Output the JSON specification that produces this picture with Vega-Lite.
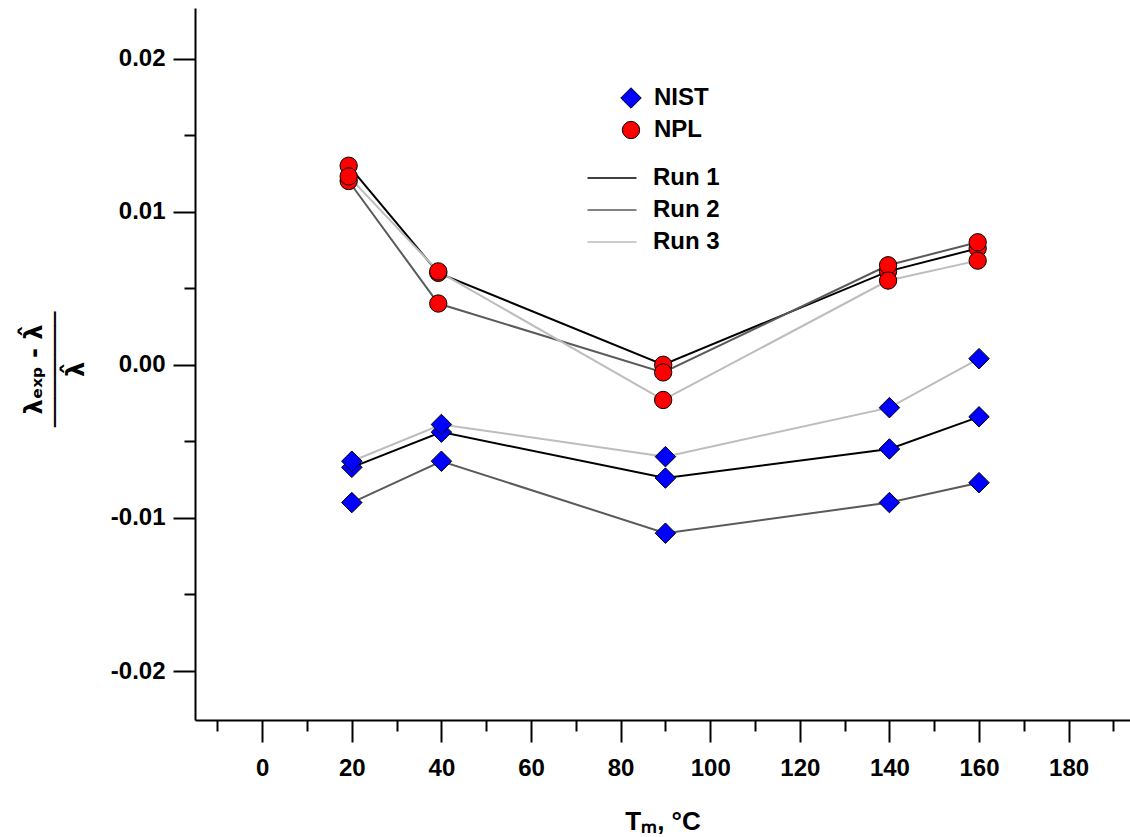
{
  "$schema": "https://vega.github.io/schema/vega-lite/v6.json",
  "width": 935,
  "height": 712,
  "autosize": {"type": "none"},
  "padding": {"left": 195, "top": 8, "right": 0, "bottom": 117},
  "background": "white",
  "config": {
    "font": "Liberation Sans",
    "view": {"stroke": null},
    "axis": {
      "grid": false,
      "domainColor": "black",
      "tickColor": "black",
      "domainWidth": 2,
      "tickWidth": 2,
      "labelFont": "Liberation Sans",
      "labelFontWeight": "bold",
      "labelFontSize": 24,
      "labelColor": "black",
      "titleFont": "Liberation Sans",
      "titleFontWeight": "bold",
      "titleFontSize": 26,
      "titleColor": "black"
    },
    "legend": {
      "labelFont": "Liberation Sans",
      "labelFontWeight": "bold",
      "labelFontSize": 24,
      "labelColor": "black",
      "padding": 0
    }
  },
  "datasets": {
    "pts": [
      {"lab": "NPL", "run": "Run 1", "T": 19.3, "v": 0.0130},
      {"lab": "NPL", "run": "Run 1", "T": 39.3, "v": 0.0060},
      {"lab": "NPL", "run": "Run 1", "T": 89.5, "v": 0.0000},
      {"lab": "NPL", "run": "Run 1", "T": 139.7, "v": 0.0061},
      {"lab": "NPL", "run": "Run 1", "T": 159.7, "v": 0.0076},
      {"lab": "NPL", "run": "Run 2", "T": 19.3, "v": 0.0120},
      {"lab": "NPL", "run": "Run 2", "T": 39.3, "v": 0.0040},
      {"lab": "NPL", "run": "Run 2", "T": 89.5, "v": -0.0005},
      {"lab": "NPL", "run": "Run 2", "T": 139.7, "v": 0.0065},
      {"lab": "NPL", "run": "Run 2", "T": 159.7, "v": 0.0080},
      {"lab": "NPL", "run": "Run 3", "T": 19.3, "v": 0.0123},
      {"lab": "NPL", "run": "Run 3", "T": 39.3, "v": 0.0061},
      {"lab": "NPL", "run": "Run 3", "T": 89.5, "v": -0.0023},
      {"lab": "NPL", "run": "Run 3", "T": 139.7, "v": 0.0055},
      {"lab": "NPL", "run": "Run 3", "T": 159.7, "v": 0.0068},
      {"lab": "NIST", "run": "Run 1", "T": 20, "v": -0.0067},
      {"lab": "NIST", "run": "Run 1", "T": 40, "v": -0.0044},
      {"lab": "NIST", "run": "Run 1", "T": 90, "v": -0.0074},
      {"lab": "NIST", "run": "Run 1", "T": 140, "v": -0.0055},
      {"lab": "NIST", "run": "Run 1", "T": 160, "v": -0.0034},
      {"lab": "NIST", "run": "Run 2", "T": 20, "v": -0.0090},
      {"lab": "NIST", "run": "Run 2", "T": 40, "v": -0.0063},
      {"lab": "NIST", "run": "Run 2", "T": 90, "v": -0.0110},
      {"lab": "NIST", "run": "Run 2", "T": 140, "v": -0.0090},
      {"lab": "NIST", "run": "Run 2", "T": 160, "v": -0.0077},
      {"lab": "NIST", "run": "Run 3", "T": 20, "v": -0.0063},
      {"lab": "NIST", "run": "Run 3", "T": 40, "v": -0.0039},
      {"lab": "NIST", "run": "Run 3", "T": 90, "v": -0.0060},
      {"lab": "NIST", "run": "Run 3", "T": 140, "v": -0.0028},
      {"lab": "NIST", "run": "Run 3", "T": 160, "v": 0.0004}
    ]
  },
  "layer": [
    {
      "mark": {"type": "rule", "color": "black", "strokeWidth": 1.5},
      "encoding": {
        "y": {"datum": 0, "type": "quantitative", "scale": {"domain": [-0.0232, 0.0233], "nice": false, "zero": false}, "axis": null}
      }
    },
    {
      "data": {"name": "pts"},
      "mark": {"type": "line", "strokeWidth": 2},
      "encoding": {
        "x": {
          "field": "T", "type": "quantitative",
          "scale": {"domain": [-15, 193.7], "nice": false, "zero": false},
          "axis": {"orient": "bottom", "values": [-10, 10, 30, 50, 70, 90, 110, 130, 150, 170, 190], "tickSize": 11, "labels": false, "domain": false, "title": null}
        },
        "y": {
          "field": "v", "type": "quantitative",
          "scale": {"domain": [-0.0232, 0.0233], "nice": false, "zero": false},
          "axis": {"orient": "left", "values": [-0.015, -0.005, 0.005, 0.015], "tickSize": 11, "labels": false, "domain": false, "title": null}
        },
        "stroke": {
          "field": "run", "type": "nominal",
          "scale": {"domain": ["Run 1", "Run 2", "Run 3"], "range": ["#000000", "#5a5a5a", "#bdbdbd"]},
          "legend": {"title": null, "orient": "none", "legendX": 405, "legendY": 158, "symbolType": "M-2.45,0H2.45", "symbolSize": 400, "symbolStrokeWidth": 1.5, "labelOffset": 29, "rowPadding": 8}
        },
        "detail": {"field": "lab", "type": "nominal"}
      }
    },
    {
      "data": {"name": "pts"},
      "mark": {"type": "point", "filled": true, "stroke": "black", "strokeWidth": 1, "opacity": 1},
      "encoding": {
        "x": {
          "field": "T", "type": "quantitative",
          "scale": {"domain": [-15, 193.7], "nice": false, "zero": false},
          "axis": {"orient": "bottom", "values": [0, 20, 40, 60, 80, 100, 120, 140, 160, 180], "tickSize": 22, "labelPadding": 14, "title": "Tₘ, °C", "titlePadding": 28}
        },
        "y": {
          "field": "v", "type": "quantitative",
          "scale": {"domain": [-0.0232, 0.0233], "nice": false, "zero": false},
          "axis": {"orient": "left", "values": [-0.02, -0.01, 0, 0.01, 0.02], "labelExpr": "replace(format(datum.value, '.2f'), '\u2212', '-')", "tickSize": 22, "labelPadding": 8,
            "title": ["λₑₓₚ - λ̂", "────────", "λ̂"],
            "titleFont": "DejaVu Sans", "titleFontSize": 24,
            "titleX": -161, "titleY": 361, "titleAngle": 270, "titleAlign": "center", "titleBaseline": "middle", "titleLineHeight": 21}
        },
        "fill": {
          "field": "lab", "type": "nominal",
          "scale": {"domain": ["NIST", "NPL"], "range": ["#0000ff", "#ff0000"]},
          "legend": {"title": null, "orient": "none", "legendX": 424, "legendY": 78, "symbolStrokeColor": "black", "symbolStrokeWidth": 1, "labelOffset": 11, "rowPadding": 7}
        },
        "shape": {
          "field": "lab", "type": "nominal",
          "scale": {"domain": ["NIST", "NPL"], "range": ["diamond", "circle"]}
        },
        "size": {
          "field": "lab", "type": "nominal",
          "scale": {"domain": ["NIST", "NPL"], "range": [420, 300]}
        }
      }
    }
  ],
  "resolve": {"axis": {"x": "independent", "y": "independent"}}
}
